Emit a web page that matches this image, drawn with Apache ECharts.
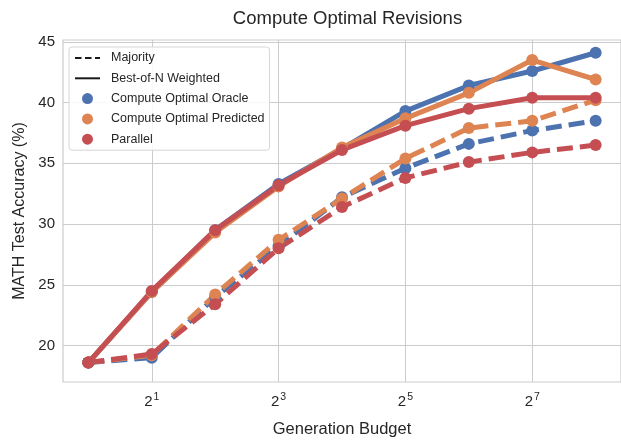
<!DOCTYPE html>
<html>
<head>
<meta charset="utf-8">
<title>Compute Optimal Revisions</title>
<script src="https://cdn.jsdelivr.net/npm/echarts@6/dist/echarts.min.js"></script>
<style>
  html, body { margin: 0; padding: 0; background: #ffffff; }
  #chart { width: 621px; height: 443px; }
</style>
</head>
<body>
<div id="chart"></div>
<script>
// Generation budgets (number of samples), plotted on a log2 axis
const budgets = [1, 2, 4, 8, 16, 32, 64, 128, 256];

// MATH test accuracy (%) per budget
const oracleMajority    = [18.6, 19.0, 24.0, 28.2, 32.2, 34.6, 36.6, 37.7, 38.5];
const oracleWeighted    = [18.6, 24.4, 29.5, 33.3, 36.2, 39.3, 41.4, 42.6, 44.1];
const predictedMajority = [18.6, 19.2, 24.2, 28.7, 32.1, 35.4, 37.9, 38.5, 40.2];
const predictedWeighted = [18.6, 24.4, 29.3, 33.1, 36.3, 38.7, 40.8, 43.5, 41.9];
const parallelMajority  = [18.6, 19.3, 23.4, 28.0, 31.4, 33.8, 35.1, 35.9, 36.5];
const parallelWeighted  = [18.6, 24.5, 29.5, 33.2, 36.1, 38.1, 39.5, 40.4, 40.4];

// Axis tick labels
const xTickValues = [2, 8, 32, 128];
const yTickValues = [20, 25, 30, 35, 40, 45];

const methodNames = ['Compute Optimal Oracle', 'Compute Optimal Predicted', 'Parallel'];
const methodColors = ['#4C72B0', '#DD8452', '#C44E52'];

const FONT = '"Liberation Sans", Arial, "DejaVu Sans", sans-serif';
const TEXT = '#262626';

function pairs(values) {
  return budgets.map((b, i) => [b, values[i]]);
}

function curve(name, color, values, dashed) {
  return {
    name: name,
    type: 'line',
    data: pairs(values),
    symbol: 'circle',
    symbolSize: 12,
    showSymbol: true,
    itemStyle: { color: color },
    lineStyle: { color: color, width: 5, type: dashed ? [16, 7] : 'solid', cap: 'butt' },
    emphasis: { disabled: true },
    animation: false
  };
}

// Legend-only entries for the two aggregation styles
function styleKey(name, dashed) {
  return {
    name: name,
    type: 'line',
    data: [],
    symbol: 'none',
    itemStyle: { color: '#1a1a1a' },
    lineStyle: { color: '#1a1a1a', width: 2.4, type: dashed ? [6.5, 3.5] : 'solid' },
    animation: false
  };
}

const series = [
  styleKey('Majority', true),
  styleKey('Best-of-N Weighted', false),
  curve(methodNames[0], methodColors[0], oracleMajority, true),
  curve(methodNames[0], methodColors[0], oracleWeighted, false),
  curve(methodNames[1], methodColors[1], predictedMajority, true),
  curve(methodNames[1], methodColors[1], predictedWeighted, false),
  curve(methodNames[2], methodColors[2], parallelMajority, true),
  curve(methodNames[2], methodColors[2], parallelWeighted, false)
];

// The style keys show only their line, with the marker hidden
const legendData = [
  { name: 'Majority', itemStyle: { opacity: 0 } },
  { name: 'Best-of-N Weighted', itemStyle: { opacity: 0 } }
].concat(methodNames.map((n, i) => ({
  name: n,
  icon: 'circle',
  itemStyle: { color: methodColors[i] }
})));

const chart = echarts.init(document.getElementById('chart'), null, { renderer: 'canvas' });

chart.setOption({
  backgroundColor: '#ffffff',
  animation: false,
  textStyle: { fontFamily: FONT },
  title: {
    text: 'Compute Optimal Revisions',
    left: 342.5,
    top: 4,
    textAlign: 'center',
    textStyle: { fontFamily: FONT, fontSize: 18.5, fontWeight: 'normal', color: TEXT }
  },
  grid: {
    left: 63,
    top: 40,
    right: -2,
    bottom: 55.5,
    show: true,
    borderColor: '#cccccc',
    borderWidth: 1.2,
    backgroundColor: '#ffffff'
  },
  legend: {
    data: legendData,
    orient: 'vertical',
    left: 69,
    top: 47,
    itemWidth: 25,
    itemHeight: 11,
    itemGap: 7.3,
    padding: [4.5, 5, 4.5, 5],
    backgroundColor: 'rgba(255,255,255,0.85)',
    borderColor: '#d6d6d6',
    borderWidth: 1,
    borderRadius: 3,
    selectedMode: false,
    textStyle: { fontFamily: FONT, fontSize: 12.5, color: TEXT, padding: [0, 0, 0, 6] }
  },
  xAxis: {
    type: 'log',
    logBase: 2,
    min: Math.pow(2, -0.4),
    max: Math.pow(2, 8.4),
    name: 'Generation Budget',
    nameLocation: 'middle',
    nameGap: 39,
    nameTextStyle: { fontFamily: FONT, fontSize: 16.5, color: TEXT },
    axisLine: { show: false },
    axisTick: { show: false, customValues: xTickValues },
    splitLine: { show: true, lineStyle: { color: '#cccccc', width: 1 } },
    axisLabel: {
      customValues: xTickValues,
      margin: 10,
      formatter: function (v) {
        return '{b|2}{s|' + Math.round(Math.log2(v)) + '}';
      },
      rich: {
        b: { fontFamily: FONT, fontSize: 15, color: TEXT },
        s: { fontFamily: FONT, fontSize: 10.5, color: TEXT, padding: [0, 0, 8, 1] }
      }
    }
  },
  yAxis: {
    type: 'value',
    min: 17.0,
    max: 45.15,
    name: 'MATH Test Accuracy (%)',
    nameLocation: 'middle',
    nameGap: 34,
    nameTextStyle: { fontFamily: FONT, fontSize: 16, color: TEXT },
    axisLine: { show: false },
    axisTick: { show: false, customValues: yTickValues },
    splitLine: { show: true, lineStyle: { color: '#cccccc', width: 1 } },
    axisLabel: {
      customValues: yTickValues,
      margin: 8,
      fontFamily: FONT,
      fontSize: 15,
      color: TEXT
    }
  },
  series: series
});
</script>
</body>
</html>
